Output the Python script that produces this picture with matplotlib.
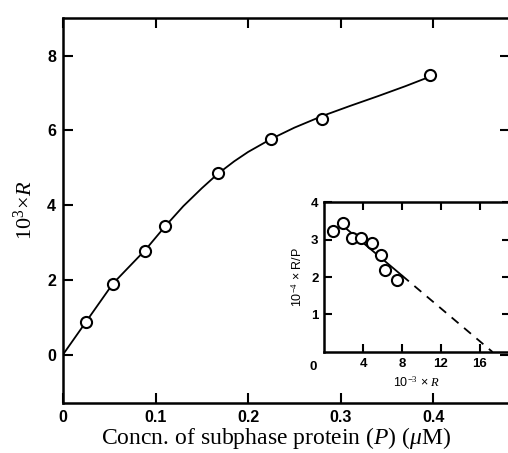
import matplotlib
matplotlib.use("Agg")
import matplotlib.pyplot as plt

plt.rcParams['mathtext.fontset'] = 'custom'
plt.rcParams['mathtext.rm'] = 'Liberation Serif'
plt.rcParams['mathtext.it'] = 'Liberation Serif:italic'

# main plot: measured points and the drawn curve (10^3 x R vs P in uM)
conc = [0.025, 0.054, 0.089, 0.110, 0.167, 0.225, 0.280, 0.396]
r_vals = [0.88, 1.90, 2.77, 3.43, 4.85, 5.76, 6.29, 7.49]
curve_x = [0.0, 0.025, 0.054, 0.089, 0.110, 0.130, 0.150, 0.167, 0.185, 0.200,
           0.225, 0.250, 0.280, 0.310, 0.340, 0.370, 0.396]
curve_y = [0.0, 0.88, 1.90, 2.80, 3.42, 3.97, 4.45, 4.83, 5.17, 5.42,
           5.77, 6.07, 6.38, 6.65, 6.91, 7.18, 7.43]
main_xticks = [0, 0.1, 0.2, 0.3, 0.4]
main_xlabels = ["0", "0.1", "0.2", "0.3", "0.4"]
main_yticks = [0, 2, 4, 6, 8]

# inset: Scatchard plot
sc_x = [0.9, 1.95, 2.9, 3.8, 4.9, 5.8, 6.3, 7.5]
sc_y = [3.24, 3.43, 3.05, 3.05, 2.9, 2.6, 2.2, 1.93]
fit_x = [2.0, 8.0]
fit_y = [3.35, 2.04]
ext_x = [8.0, 17.3]
ext_y = [2.04, 0.0]
ins_xticks = [4, 8, 12, 16]
ins_yticks = [1, 2, 3, 4]

fig = plt.figure(figsize=(5.08, 4.53), dpi=100)
ax = fig.add_axes([0.124, 0.110, 0.880, 0.850])
ax.plot(curve_x, curve_y, color='black', lw=1.3)
ax.plot(conc, r_vals, 'o', ms=8, mfc='white', mec='black', mew=1.5)
ax.set_xlim(0, 0.483)
ax.set_ylim(-1.3, 9.0)
ax.set_xticks(main_xticks)
ax.set_xticklabels(main_xlabels)
ax.set_yticks(main_yticks)
ax.tick_params(direction='in', length=7, width=1.5, top=True, right=True,
               labelsize=11.5, pad=5)
for lab in ax.get_xticklabels() + ax.get_yticklabels():
    lab.set_fontweight('bold')
    lab.set_family('Liberation Sans')
for s in ax.spines.values():
    s.set_linewidth(1.8)
ax.set_ylabel(r"$\mathrm{10^3\!\times\!}\mathit{R}$", fontsize=16, labelpad=8)
fig.text(0.543, 0.033, r"Concn. of subphase protein ($P$) ($\mu$M)",
         ha='center', va='center', fontsize=17, family='Liberation Serif')

ins = fig.add_axes([0.638, 0.223, 0.366, 0.331])
ins.plot(fit_x, fit_y, color='black', lw=1.3)
ins.plot(ext_x, ext_y, color='black', lw=1.3, ls=(0, (5, 4)))
ins.plot(sc_x, sc_y, 'o', ms=8, mfc='white', mec='black', mew=1.5)
ins.set_xlim(0, 19.1)
ins.set_ylim(0, 4)
ins.set_xticks(ins_xticks)
ins.set_yticks(ins_yticks)
ins.tick_params(direction='in', length=6, width=1.5, top=True, right=True,
                labelsize=9.5, pad=4)
for lab in ins.get_xticklabels() + ins.get_yticklabels():
    lab.set_fontweight('bold')
    lab.set_family('Liberation Sans')
for s in ins.spines.values():
    s.set_linewidth(1.8)
ins.text(-0.06, -0.06, "0", transform=ins.transAxes, ha='center', va='top',
         fontsize=9.5, fontweight='bold', family='Liberation Sans')
ins.set_ylabel(r"10$^{-4}$ × R/P", fontsize=9, labelpad=5,
               family='Liberation Sans')
ins.set_xlabel(r"10$^{-3}$ × $\mathit{R}$", fontsize=9, labelpad=4,
               family='Liberation Sans')

fig.savefig("out.png", dpi=100)
